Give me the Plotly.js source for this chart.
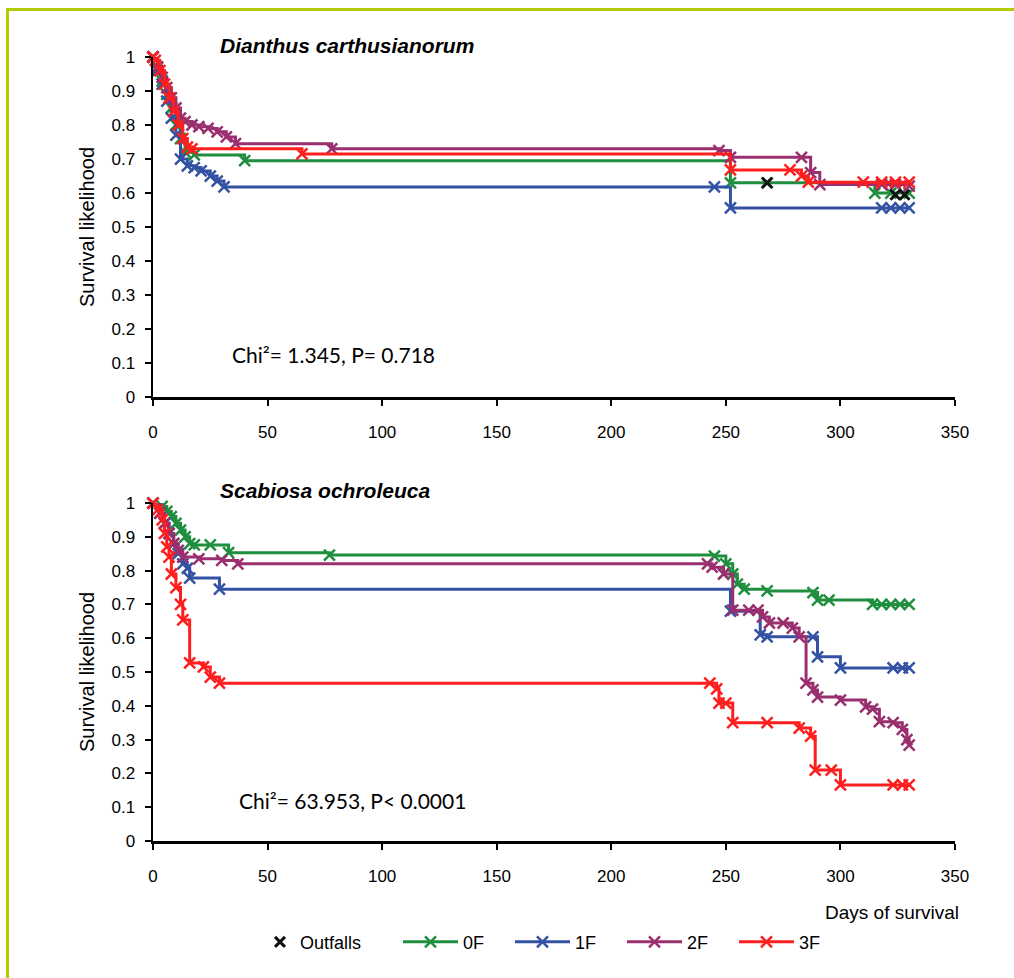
<!DOCTYPE html>
<html>
<head>
<meta charset="utf-8">
<script src="https://cdn.plot.ly/plotly-3.0.1.min.js"></script>
<style>
  html, body { margin: 0; padding: 0; background: #ffffff; }
  #chart { width: 1014px; height: 978px; }
</style>
</head>
<body>
<div id="chart"></div>
<script>
// ---------- DATA ----------
const seriesNames = ['0F', '1F', '2F', '3F'];
const seriesColors = ['#1f8f3f', '#3352a3', '#9a2f6f', '#ff1e1e'];
const xTickVals = [0, 50, 100, 150, 200, 250, 300, 350];

// Dianthus carthusianorum (top panel)
const topDays0F = [0, 2, 4, 6, 8, 10, 12, 14, 18, 40, 252, 268, 315, 322, 330];
const topSurv0F = [1, 0.97, 0.93, 0.89, 0.85, 0.80, 0.76, 0.72, 0.712, 0.695, 0.63, 0.63, 0.60, 0.60, 0.60];
const topDays1F = [0, 2, 4, 6, 8, 10, 12, 15, 18, 21, 25, 28, 31, 245, 252, 318, 322, 326, 330];
const topSurv1F = [1, 0.96, 0.92, 0.87, 0.82, 0.77, 0.70, 0.68, 0.675, 0.665, 0.65, 0.635, 0.618, 0.618, 0.556, 0.556, 0.556, 0.556, 0.556];
const topDays2F = [0, 2, 4, 6, 8, 10, 12, 14, 17, 20, 24, 28, 32, 36, 78, 247, 252, 283, 287, 291, 318, 324, 330];
const topSurv2F = [1, 0.97, 0.94, 0.91, 0.88, 0.85, 0.82, 0.81, 0.80, 0.795, 0.79, 0.78, 0.765, 0.745, 0.73, 0.725, 0.705, 0.705, 0.66, 0.625, 0.625, 0.625, 0.62];
const topDays3F = [0, 1, 3, 5, 7, 9, 11, 13, 15, 17, 65, 252, 278, 283, 286, 310, 318, 324, 330];
const topSurv3F = [1, 0.99, 0.96, 0.92, 0.88, 0.84, 0.80, 0.76, 0.735, 0.73, 0.715, 0.668, 0.668, 0.65, 0.632, 0.632, 0.632, 0.632, 0.632];
const topOutfallDays = [268, 324, 328];
const topOutfallSurv = [0.63, 0.595, 0.595];

// Scabiosa ochroleuca (bottom panel)
const botDays0F = [0, 4, 6, 8, 10, 12, 14, 16, 18, 25, 33, 77, 245, 250, 253, 255, 258, 268, 288, 290, 295, 314, 318, 322, 326, 330];
const botSurv0F = [1, 0.99, 0.975, 0.96, 0.94, 0.92, 0.90, 0.88, 0.876, 0.876, 0.853, 0.846, 0.843, 0.82, 0.79, 0.76, 0.745, 0.74, 0.735, 0.713, 0.713, 0.70, 0.70, 0.70, 0.70, 0.70];
const botDays1F = [0, 3, 5, 7, 9, 11, 13, 15, 16, 29, 252, 265, 268, 288, 290, 300, 323, 327, 330];
const botSurv1F = [1, 0.97, 0.94, 0.91, 0.88, 0.85, 0.82, 0.807, 0.778, 0.745, 0.68, 0.61, 0.604, 0.604, 0.545, 0.512, 0.512, 0.512, 0.512];
const botDays2F = [0, 3, 5, 7, 9, 11, 13, 20, 30, 37, 242, 244, 249, 253, 260, 264, 266, 269, 275, 279, 282, 285, 288, 290, 300, 311, 314, 317, 323, 327, 329, 330];
const botSurv2F = [1, 0.97, 0.94, 0.91, 0.88, 0.86, 0.84, 0.835, 0.83, 0.82, 0.82, 0.81, 0.79, 0.683, 0.683, 0.683, 0.663, 0.645, 0.645, 0.63, 0.604, 0.467, 0.447, 0.426, 0.417, 0.397, 0.39, 0.353, 0.35, 0.33, 0.30, 0.284];
const botDays3F = [0, 2, 4, 5, 6, 7, 8, 10, 12, 13, 16, 22, 25, 29, 243, 246, 247, 250, 253, 268, 282, 287, 289, 296, 300, 323, 327, 330];
const botSurv3F = [1, 0.98, 0.95, 0.91, 0.87, 0.84, 0.79, 0.75, 0.70, 0.654, 0.527, 0.515, 0.485, 0.467, 0.467, 0.45, 0.408, 0.408, 0.35, 0.35, 0.334, 0.31, 0.21, 0.21, 0.166, 0.166, 0.166, 0.166];

const topTitle = 'Dianthus carthusianorum';
const botTitle = 'Scabiosa ochroleuca';
const topStat = 'Chi\u00b2= 1.345, P= 0.718';
const botStat = 'Chi\u00b2= 63.953, P< 0.0001';
const yTitle = 'Survival likelihood';
const xTitle = 'Days of survival';

// ---------- TRACES ----------
const topSeries = [[topDays0F, topSurv0F], [topDays1F, topSurv1F], [topDays2F, topSurv2F], [topDays3F, topSurv3F]];
const botSeries = [[botDays0F, botSurv0F], [botDays1F, botSurv1F], [botDays2F, botSurv2F], [botDays3F, botSurv3F]];

function kmTrace(d, s, i, xa, ya, show) {
  return {
    type: 'scatter', mode: 'lines+markers', x: d, y: s,
    xaxis: xa, yaxis: ya, name: seriesNames[i], legendgroup: seriesNames[i], showlegend: show, legend: 'legend',
    line: { shape: 'hv', color: seriesColors[i], width: 3 },
    marker: { symbol: 'x-thin', size: 11, color: seriesColors[i], line: { color: seriesColors[i], width: 2.5 } },
    cliponaxis: false, hoverinfo: 'skip'
  };
}
function outfallTrace(show) {
  return {
    type: 'scatter', mode: 'markers', x: topOutfallDays, y: topOutfallSurv, xaxis: 'x', yaxis: 'y',
    name: 'Outfalls', legendgroup: 'out', showlegend: show, legend: 'legend2',
    marker: { symbol: 'x-thin', size: 10, color: '#111111', line: { color: '#111111', width: 3 } },
    cliponaxis: false, hoverinfo: 'skip'
  };
}

const traces = [];
topSeries.forEach((p, i) => traces.push(kmTrace(p[0], p[1], i, 'x', 'y', true)));
botSeries.forEach((p, i) => traces.push(kmTrace(p[0], p[1], i, 'x2', 'y2', false)));
traces.push(outfallTrace(true));

// ---------- LAYOUT ----------
const SANS = 'Liberation Sans, Arial, sans-serif';
const tickFont = { family: SANS, size: 17, color: '#000' };
function xAxis(anchor) {
  return {
    anchor: anchor, domain: [0, 1], range: [0, 350], tickvals: xTickVals,
    showline: true, linecolor: '#000', linewidth: 2.5, mirror: false,
    ticks: 'outside', ticklen: 6, tickwidth: 2, tickcolor: '#000',
    showgrid: false, zeroline: false, tickfont: tickFont, ticklabelstandoff: 12, fixedrange: true
  };
}
function yAxis(anchor, domain) {
  return {
    anchor: anchor, domain: domain, range: [0, 1], dtick: 0.1, tick0: 0,
    showline: true, linecolor: '#000', linewidth: 2.5,
    ticks: 'outside', ticklen: 6, tickwidth: 2, tickcolor: '#000',
    showgrid: false, zeroline: false, tickfont: tickFont, ticklabelstandoff: 6,
    title: { text: yTitle, font: { family: SANS, size: 20, color: '#000' }, standoff: 12 },
    fixedrange: true
  };
}

const border = '#b5cb00';
const legendFont = { family: SANS, size: 18, color: '#000' };
const layout = {
  width: 1014, height: 978,
  margin: { l: 153, r: 59, t: 57, b: 137 },
  paper_bgcolor: '#ffffff', plot_bgcolor: 'rgba(0,0,0,0)',
  showlegend: true,
  legend: {
    orientation: 'h', x: (398 - 153) / 802, xanchor: 'left', y: -0.129, yanchor: 'middle',
    font: legendFont, itemwidth: 55, entrywidth: 42, entrywidthmode: 'pixels', bgcolor: 'rgba(0,0,0,0)'
  },
  legend2: {
    orientation: 'h', x: (260 - 153) / 802, xanchor: 'left', y: -0.129, yanchor: 'middle',
    font: legendFont, itemwidth: 30, bgcolor: 'rgba(0,0,0,0)'
  },
  xaxis: xAxis('y'),
  yaxis: yAxis('x', [0.5663, 1]),
  xaxis2: xAxis('y2'),
  yaxis2: yAxis('x2', [0, 0.4311]),
  annotations: [
    { text: '<b><i>' + topTitle + '</i></b>', xref: 'x domain', yref: 'y domain', x: 65 / 802, y: 1.035, xanchor: 'left', yanchor: 'middle', showarrow: false, font: { family: SANS, size: 21, color: '#000' } },
    { text: '<b><i>' + botTitle + '</i></b>', xref: 'x2 domain', yref: 'y2 domain', x: 65 / 802, y: 1.036, xanchor: 'left', yanchor: 'middle', showarrow: false, font: { family: SANS, size: 21, color: '#000' } },
    { text: topStat, xref: 'x', yref: 'y', x: 33.6, y: 0.124, xanchor: 'left', yanchor: 'middle', showarrow: false, font: { family: 'Lato, sans-serif', size: 21, color: '#000' } },
    { text: botStat, xref: 'x2', yref: 'y2', x: 36.6, y: 0.121, xanchor: 'left', yanchor: 'middle', showarrow: false, font: { family: 'Lato, sans-serif', size: 21, color: '#000' } },
    { text: xTitle, xref: 'paper', yref: 'paper', x: 1.007, y: -0.0906, xanchor: 'right', yanchor: 'middle', showarrow: false, font: { family: SANS, size: 19, color: '#000' } }
  ],
  shapes: [
    { type: 'line', xref: 'paper', yref: 'paper', x0: (6 - 153) / 802, x1: (1014 - 153) / 802, y0: (841 - 9.5) / 784, y1: (841 - 9.5) / 784, line: { color: border, width: 3 }, layer: 'below' },
    { type: 'line', xref: 'paper', yref: 'paper', x0: (7.5 - 153) / 802, x1: (7.5 - 153) / 802, y0: (841 - 8) / 784, y1: (841 - 978) / 784, line: { color: border, width: 3 }, layer: 'below' }
  ]
};

Plotly.newPlot('chart', traces, layout, { staticPlot: true, displayModeBar: false });
</script>
</body>
</html>
